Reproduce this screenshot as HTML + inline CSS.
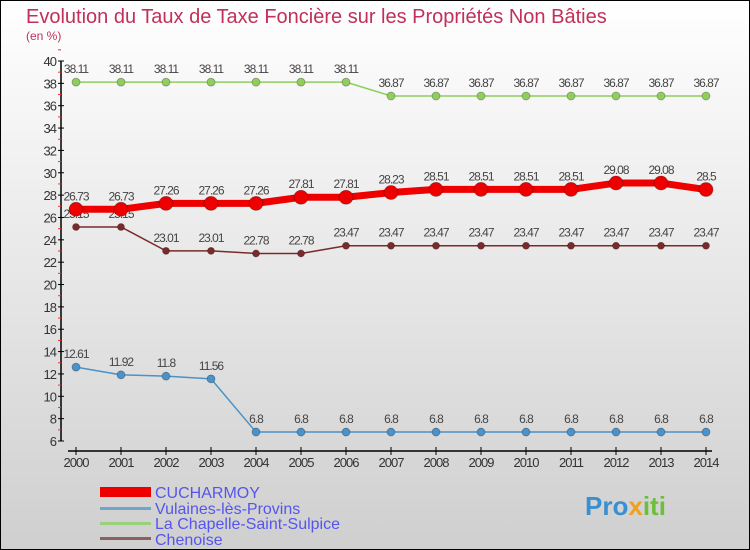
<!DOCTYPE html>
<html><head><meta charset="utf-8"><style>
body{margin:0}
#c{width:750px;height:550px;position:relative;box-sizing:border-box;border:1px solid #000;background:linear-gradient(#ffffff,#cfcfcf);font-family:"Liberation Sans",sans-serif;overflow:hidden}
</style></head><body>
<div id="c">
<svg id="s" width="750" height="550" style="position:absolute;left:-1px;top:-1px">
<text x="26" y="23" font-size="20" fill="#c0305a">Evolution du Taux de Taxe Foncière sur les Propriétés Non Bâties</text>
<text x="26" y="40" font-size="12" fill="#c0305a">(en %)</text>
<g id="g"></g>
<g>
<rect x="100" y="487" width="51" height="10" fill="#ee0000"/>
<text x="155" y="498" font-size="16" fill="#5555ee">CUCHARMOY</text>
<rect x="100" y="507" width="51" height="3" fill="#6fa4cc"/>
<text x="155" y="514" font-size="16" fill="#5555ee">Vulaines-lès-Provins</text>
<rect x="100" y="522" width="51" height="3" fill="#9ad07a"/>
<text x="155" y="529" font-size="16" fill="#5555ee">La Chapelle-Saint-Sulpice</text>
<rect x="100" y="537" width="51" height="3" fill="#8a6060"/>
<text x="155" y="545" font-size="16" fill="#5555ee">Chenoise</text>
</g>
<text x="585" y="515" font-size="26" font-weight="bold" fill="#3a8fd0">Pro<tspan fill="#f0a020">x</tspan><tspan fill="#6cbf3a">iti</tspan></text>
</svg>
</div>
<script>
const years=[2000,2001,2002,2003,2004,2005,2006,2007,2008,2009,2010,2011,2012,2013,2014];
const yTicks=[6,8,10,12,14,16,18,20,22,24,26,28,30,32,34,36,38,40];
const chapelle=[38.11,38.11,38.11,38.11,38.11,38.11,38.11,36.87,36.87,36.87,36.87,36.87,36.87,36.87,36.87];
const cucharmoy=[26.73,26.73,27.26,27.26,27.26,27.81,27.81,28.23,28.51,28.51,28.51,28.51,29.08,29.08,28.5];
const chenoise=[25.15,25.15,23.01,23.01,22.78,22.78,23.47,23.47,23.47,23.47,23.47,23.47,23.47,23.47,23.47];
const vulaines=[12.61,11.92,11.8,11.56,6.8,6.8,6.8,6.8,6.8,6.8,6.8,6.8,6.8,6.8,6.8];
const NS="http://www.w3.org/2000/svg",g=document.getElementById('g');
const X=i=>76+45*i, Y=v=>61+(40-v)*380/34;
function el(t,a,p){const e=document.createElementNS(NS,t);for(const k in a)e.setAttribute(k,a[k]);(p||g).appendChild(e);return e;}
let ax=el('line',{x1:61,y1:61,x2:61,y2:441,stroke:'#000','stroke-width':1.5});


let xa=el('line',{x1:68,y1:451,x2:712,y2:451,stroke:'#000','stroke-width':1.5});


yTicks.forEach(v=>{
 el('line',{x1:58,x2:64,y1:Y(v),y2:Y(v),stroke:'#000'});
 el('line',{x1:58,x2:61,y1:Y(v+1),y2:Y(v+1),stroke:'#e33'});
 const t=el('text',{x:56,y:Y(v)+5,'font-size':13,fill:'#333','text-anchor':'end','letter-spacing':'-1'});
 t.textContent=v;
 
 
});
years.forEach((y,i)=>{
 el('line',{x1:X(i),x2:X(i),y1:447,y2:455,stroke:'#000'});
 const t=el('text',{x:X(i),y:467,'font-size':13,fill:'#333','text-anchor':'middle','letter-spacing':'-1'});
 t.textContent=y;
 
 
});
function series(d,name,col,w,r){
 const p=el('polyline',{points:d.map((v,i)=>X(i)+','+Y(v)).join(' '),fill:'none',stroke:col,'stroke-width':w,'stroke-linejoin':'round'});
 
 
 d.forEach((v,i)=>{
  const c=el('circle',{cx:X(i),cy:Y(v),r:r,fill:col,stroke:'rgba(0,0,0,0.3)','stroke-width':0.8});
  
  
  const t=el('text',{x:X(i),y:Y(v)-9,'font-size':12,fill:'#444','text-anchor':'middle','letter-spacing':'-1'});
  t.textContent=v;
  
  
 });
}
series(chapelle,'chapelle','#8fce5e',1.5,4);
series(vulaines,'vulaines','#4a92c8',1.5,4);
series(chenoise,'chenoise','#7a2a2a',1.5,3.5);
series(cucharmoy,'cucharmoy','#ee0000',7,7);
</script>
</body></html>
